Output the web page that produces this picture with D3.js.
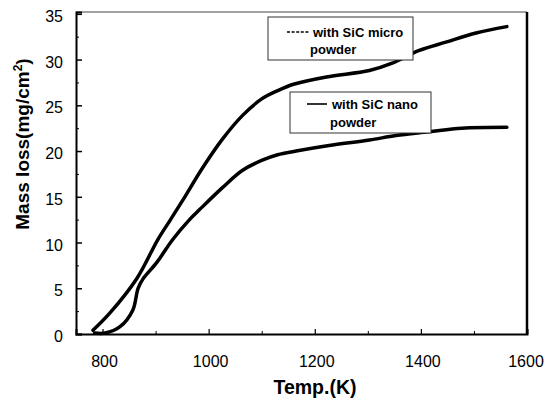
<!DOCTYPE html>
<html lang="en">
<head>
<meta charset="UTF-8">
<title>Mass loss vs temperature</title>
<script src="https://cdn.jsdelivr.net/npm/d3@7"></script>
<style>
  body { margin: 0; background: #fff; }
  text { font-family: "Liberation Sans", Arial, sans-serif; }
</style>
</head>
<body>
<script>

var w = 545;
var h = 402;

// temperatures (K) and mass loss (mg/cm2)
var microTemp = [782, 814, 865, 904, 927, 951, 989, 1026, 1064, 1100, 1130, 1160, 1222, 1303, 1346, 1397, 1447, 1504, 1562];
var microLoss = [0.4, 2.3, 6.1, 10.3, 12.4, 14.6, 18.2, 21.3, 23.9, 25.7, 26.6, 27.3, 28.1, 28.8, 29.6, 31.0, 31.9, 32.9, 33.6];

var nanoTemp = [785, 805, 833, 857, 867, 876, 902, 932, 964, 983, 1026, 1064, 1101, 1130, 1165, 1227, 1303, 1353, 1415, 1477, 1562];
var nanoLoss = [0.1, 0.1, 0.8, 2.6, 5.0, 6.0, 7.8, 10.3, 12.5, 13.6, 16.0, 17.9, 19.0, 19.6, 20.0, 20.6, 21.2, 21.7, 22.1, 22.5, 22.6];

var xTicks = [800, 1000, 1200, 1400, 1600];
var xMinor = [900, 1100, 1300, 1500];
var yTicks = [0, 5, 10, 15, 20, 25, 30, 35];
var yMinor = [2.5, 7.5, 12.5, 17.5, 22.5, 27.5, 32.5];

var padL = 76, padR = 527, padT = 12, padB = 334;

var x = d3.scaleLinear().domain([750, 1600]).range([padL, padR]);
var y = d3.scaleLinear().domain([0, 35.2]).range([padB, padT]);

var svg = d3.select("body").append("svg")
    .attr("width", w)
    .attr("height", h);

// frame
svg.append("line").attr("x1", padL).attr("x2", padR).attr("y1", padT).attr("y2", padT)
    .attr("stroke", "#444").attr("stroke-width", 1.2);
svg.append("line").attr("x1", padR).attr("x2", padR).attr("y1", padT).attr("y2", padB)
    .attr("stroke", "#000").attr("stroke-width", 2.5);

var yAxis = svg.append("g")
    .attr("transform", "translate(" + padL + ",0)")
    .call(d3.axisRight(y).tickValues(yTicks).tickSize(6).tickFormat(""));
yAxis.select(".domain").attr("stroke-width", 2);
yAxis.selectAll(".tick line").attr("stroke-width", 1.5);

svg.append("g")
    .attr("transform", "translate(" + padL + ",0)")
    .call(d3.axisRight(y).tickValues(yMinor).tickSize(3).tickFormat(""))
    .call(function(g) { g.select(".domain").remove(); });

var xAxis = svg.append("g")
    .attr("transform", "translate(0," + padB + ")")
    .call(d3.axisTop(x).tickValues(xTicks).tickSize(5).tickFormat(""));
xAxis.select(".domain").attr("stroke-width", 2);
xAxis.selectAll(".tick line").attr("stroke-width", 1.2);

svg.append("g")
    .attr("transform", "translate(0," + padB + ")")
    .call(d3.axisTop(x).tickValues(xMinor).tickSize(3).tickFormat(""))
    .call(function(g) { g.select(".domain").remove(); });

// tick labels
svg.append("g").selectAll("text")
    .data(yTicks)
    .enter()
    .append("text")
    .attr("x", 63)
    .attr("y", function(d) { return y(d) + 8; })
    .attr("text-anchor", "end")
    .attr("font-size", 16)
    .text(function(d) { return d; });

svg.append("g").selectAll("text")
    .data(xTicks)
    .enter()
    .append("text")
    .attr("x", function(d) { return Math.min(x(d) + 2, 526); })
    .attr("y", 367)
    .attr("text-anchor", "middle")
    .attr("font-size", 16)
    .text(function(d) { return d; });

// axis titles
svg.append("text")
    .attr("x", 315)
    .attr("y", 394)
    .attr("text-anchor", "middle")
    .attr("font-size", 19.5)
    .attr("font-weight", "bold")
    .text("Temp.(K)");

var yTitle = svg.append("text")
    .attr("transform", "translate(29,144) rotate(-90)")
    .attr("text-anchor", "middle")
    .attr("font-size", 19)
    .attr("font-weight", "bold");
yTitle.append("tspan").text("Mass loss(mg/cm");
yTitle.append("tspan").attr("font-size", 12).attr("dy", -7).text("2");
yTitle.append("tspan").attr("dy", 7).text(")");

// curves
var line = d3.line()
    .x(function(d) { return x(d[0]); })
    .y(function(d) { return y(d[1]); })
    .curve(d3.curveCatmullRom.alpha(0.5));

svg.append("path")
    .datum(d3.zip(microTemp, microLoss))
    .attr("d", line)
    .attr("fill", "none")
    .attr("stroke", "#000")
    .attr("stroke-width", 3.5)
    .attr("stroke-linecap", "round");

svg.append("path")
    .datum(d3.zip(nanoTemp, nanoLoss))
    .attr("d", line)
    .attr("fill", "none")
    .attr("stroke", "#000")
    .attr("stroke-width", 3.5)
    .attr("stroke-linecap", "round");

// legend boxes
svg.append("rect")
    .attr("x", 268).attr("y", 17).attr("width", 145).attr("height", 43)
    .attr("fill", "#fff").attr("stroke", "#333").attr("stroke-width", 1);
svg.append("line")
    .attr("x1", 287).attr("x2", 310).attr("y1", 32).attr("y2", 32)
    .attr("stroke", "#000").attr("stroke-width", 1.6).attr("stroke-dasharray", "3,1.6");
svg.append("text").attr("x", 313).attr("y", 37)
    .attr("font-size", 13).attr("font-weight", "bold").text("with SiC micro");
svg.append("text").attr("x", 310).attr("y", 54)
    .attr("font-size", 13).attr("font-weight", "bold").text("powder");

svg.append("rect")
    .attr("x", 290).attr("y", 92).attr("width", 141).attr("height", 41)
    .attr("fill", "#fff").attr("stroke", "#333").attr("stroke-width", 1);
svg.append("line")
    .attr("x1", 307).attr("x2", 327).attr("y1", 104).attr("y2", 104)
    .attr("stroke", "#000").attr("stroke-width", 1.6);
svg.append("text").attr("x", 332).attr("y", 109)
    .attr("font-size", 13).attr("font-weight", "bold").text("with SiC nano");
svg.append("text").attr("x", 330).attr("y", 127)
    .attr("font-size", 13).attr("font-weight", "bold").text("powder");

</script>
</body>
</html>
